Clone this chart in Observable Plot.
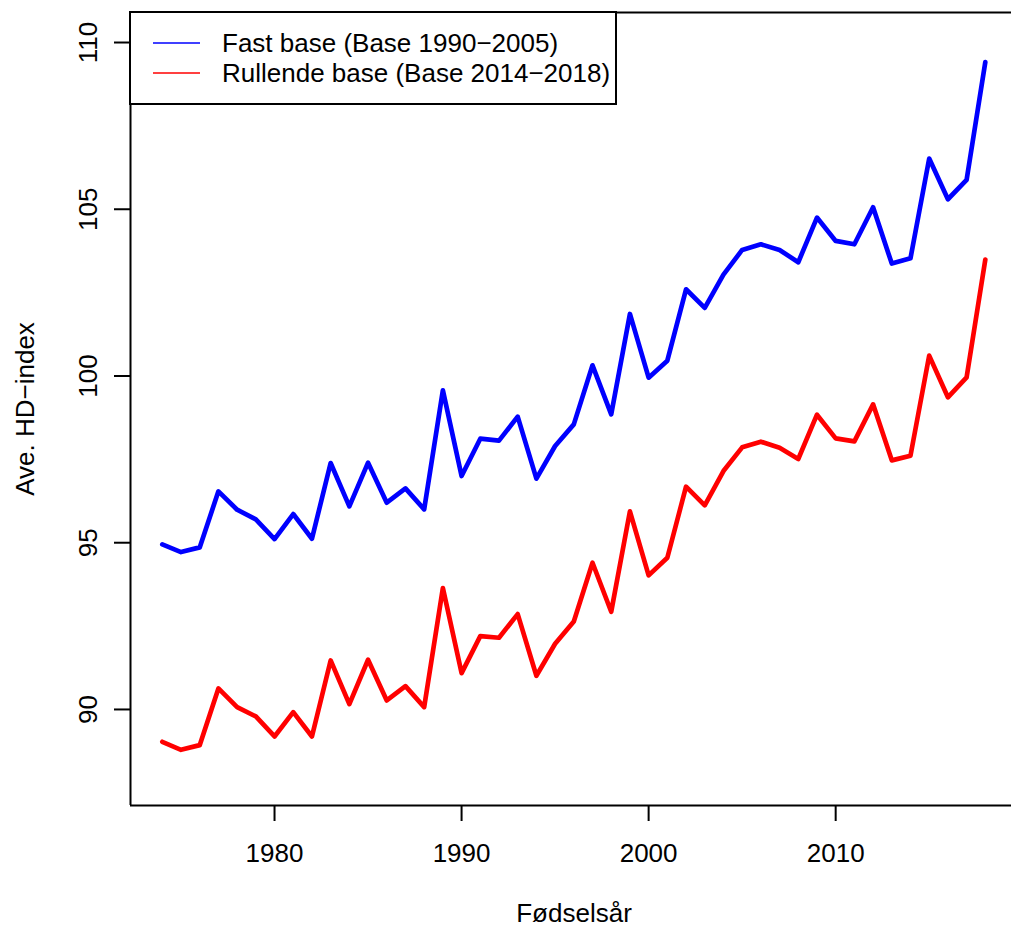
<!DOCTYPE html>
<html>
<head>
<meta charset="utf-8">
<script src="https://cdn.jsdelivr.net/npm/d3@7"></script>
<script src="https://cdn.jsdelivr.net/npm/@observablehq/plot@0.6"></script>
<style>
  html, body { margin: 0; padding: 0; background: #ffffff; }
  #chart svg { display: block; }
</style>
</head>
<body>
<div id="chart"></div>
<script>
const years = [1974, 1975, 1976, 1977, 1978, 1979, 1980, 1981, 1982, 1983,
  1984, 1985, 1986, 1987, 1988, 1989, 1990, 1991, 1992, 1993,
  1994, 1995, 1996, 1997, 1998, 1999, 2000, 2001, 2002, 2003,
  2004, 2005, 2006, 2007, 2008, 2009, 2010, 2011, 2012, 2013,
  2014, 2015, 2016, 2017, 2018];

const fastBase = [94.95, 94.72, 94.86, 96.54, 95.99, 95.70, 95.11, 95.86, 95.12, 97.39,
  96.09, 97.40, 96.20, 96.63, 96.00, 99.57, 97.00, 98.12, 98.06, 98.78,
  96.92, 97.90, 98.55, 100.32, 98.85, 101.86, 99.95, 100.46, 102.60, 102.04,
  103.04, 103.78, 103.95, 103.78, 103.41, 104.75, 104.05, 103.95, 105.06, 103.37,
  103.53, 106.52, 105.30, 105.88, 109.41];

const rullendeBase = [89.03, 88.79, 88.93, 90.63, 90.07, 89.79, 89.19, 89.92, 89.19, 91.47,
  90.16, 91.49, 90.27, 90.70, 90.07, 93.64, 91.09, 92.20, 92.15, 92.86,
  91.01, 91.97, 92.64, 94.40, 92.93, 95.94, 94.02, 94.55, 96.68, 96.12,
  97.15, 97.86, 98.03, 97.85, 97.51, 98.84, 98.13, 98.04, 99.15, 97.47,
  97.61, 100.61, 99.36, 99.96, 103.49];

const seriesNames = ["Fast base (Base 1990\u22122005)", "Rullende base (Base 2014\u22122018)"];
const seriesColors = ["#0000ff", "#ff0000"];

const xTicks = [1980, 1990, 2000, 2010];
const yTicks = [90, 95, 100, 105, 110];

const xLabel = "Fødselsår";
const yLabel = "Ave. HD\u2212index";

const xDomain = [1972.3, 2019.4];
const yDomain = [87.12, 110.9];

const fastData = years.map((yr, i) => ({year: yr, value: fastBase[i]}));
const rullData = years.map((yr, i) => ({year: yr, value: rullendeBase[i]}));

const FONT = "'Liberation Sans', Arial, Helvetica, sans-serif";
const FS = 26;

const chart = Plot.plot({
  width: 1011,
  height: 931,
  marginLeft: 130,
  marginRight: 0,
  marginTop: 12,
  marginBottom: 126,
  style: {fontFamily: FONT, fontSize: FS + "px", background: "#ffffff", color: "#000000"},
  x: {domain: xDomain, axis: null},
  y: {domain: yDomain, axis: null},
  marks: [
    // plot box (left, top, bottom)
    Plot.ruleY([yDomain[0], yDomain[1]], {stroke: "#000", strokeWidth: 2}),
    Plot.ruleX([xDomain[0]], {stroke: "#000", strokeWidth: 2}),
    // ticks
    Plot.axisX(xTicks, {tickSize: 16, tickFormat: () => "", label: null, stroke: "#000", strokeWidth: 2}),
    Plot.axisY(yTicks, {tickSize: 16, tickFormat: () => "", label: null, stroke: "#000", strokeWidth: 2}),
    // tick labels
    Plot.text(xTicks, {x: d => d, frameAnchor: "bottom", dy: 48, text: d => String(d),
      lineAnchor: "middle", textAnchor: "middle", fontSize: FS, fill: "#000"}),
    Plot.text(yTicks, {y: d => d, frameAnchor: "left", dx: -42, rotate: -90, text: d => String(d),
      lineAnchor: "middle", textAnchor: "middle", fontSize: FS, fill: "#000"}),
    // axis titles
    Plot.text([xLabel], {frameAnchor: "bottom", dx: 3, dy: 108, text: d => d,
      lineAnchor: "middle", textAnchor: "middle", fontSize: FS, fill: "#000"}),
    Plot.text([yLabel], {frameAnchor: "left", dx: -105, rotate: -90, text: d => d,
      lineAnchor: "middle", textAnchor: "middle", fontSize: FS, fill: "#000"}),
    // data lines
    Plot.line(fastData, {x: "year", y: "value", stroke: seriesColors[0], strokeWidth: 4.7,
      strokeLinejoin: "round", strokeLinecap: "round"}),
    Plot.line(rullData, {x: "year", y: "value", stroke: seriesColors[1], strokeWidth: 4.7,
      strokeLinejoin: "round", strokeLinecap: "round"})
  ]
});

// Legend (top-left, inside the plot box)
const svg = d3.select(chart);
const lg = svg.append("g").attr("class", "legend").attr("text-anchor", "start");
lg.append("rect")
  .attr("x", 130).attr("y", 12).attr("width", 486).attr("height", 92)
  .attr("fill", "#ffffff").attr("stroke", "#000").attr("stroke-width", 2);
seriesNames.forEach((name, i) => {
  const cy = 43 + i * 30;
  lg.append("line")
    .attr("x1", 153).attr("x2", 200).attr("y1", cy).attr("y2", cy)
    .attr("stroke", seriesColors[i]).attr("stroke-width", 1.6);
  lg.append("text")
    .attr("x", 222).attr("y", cy).attr("dy", "0.35em")
    .attr("text-anchor", "start")
    .attr("font-family", FONT).attr("font-size", FS).attr("fill", "#000")
    .text(name);
});

document.getElementById("chart").appendChild(chart);
</script>
</body>
</html>
